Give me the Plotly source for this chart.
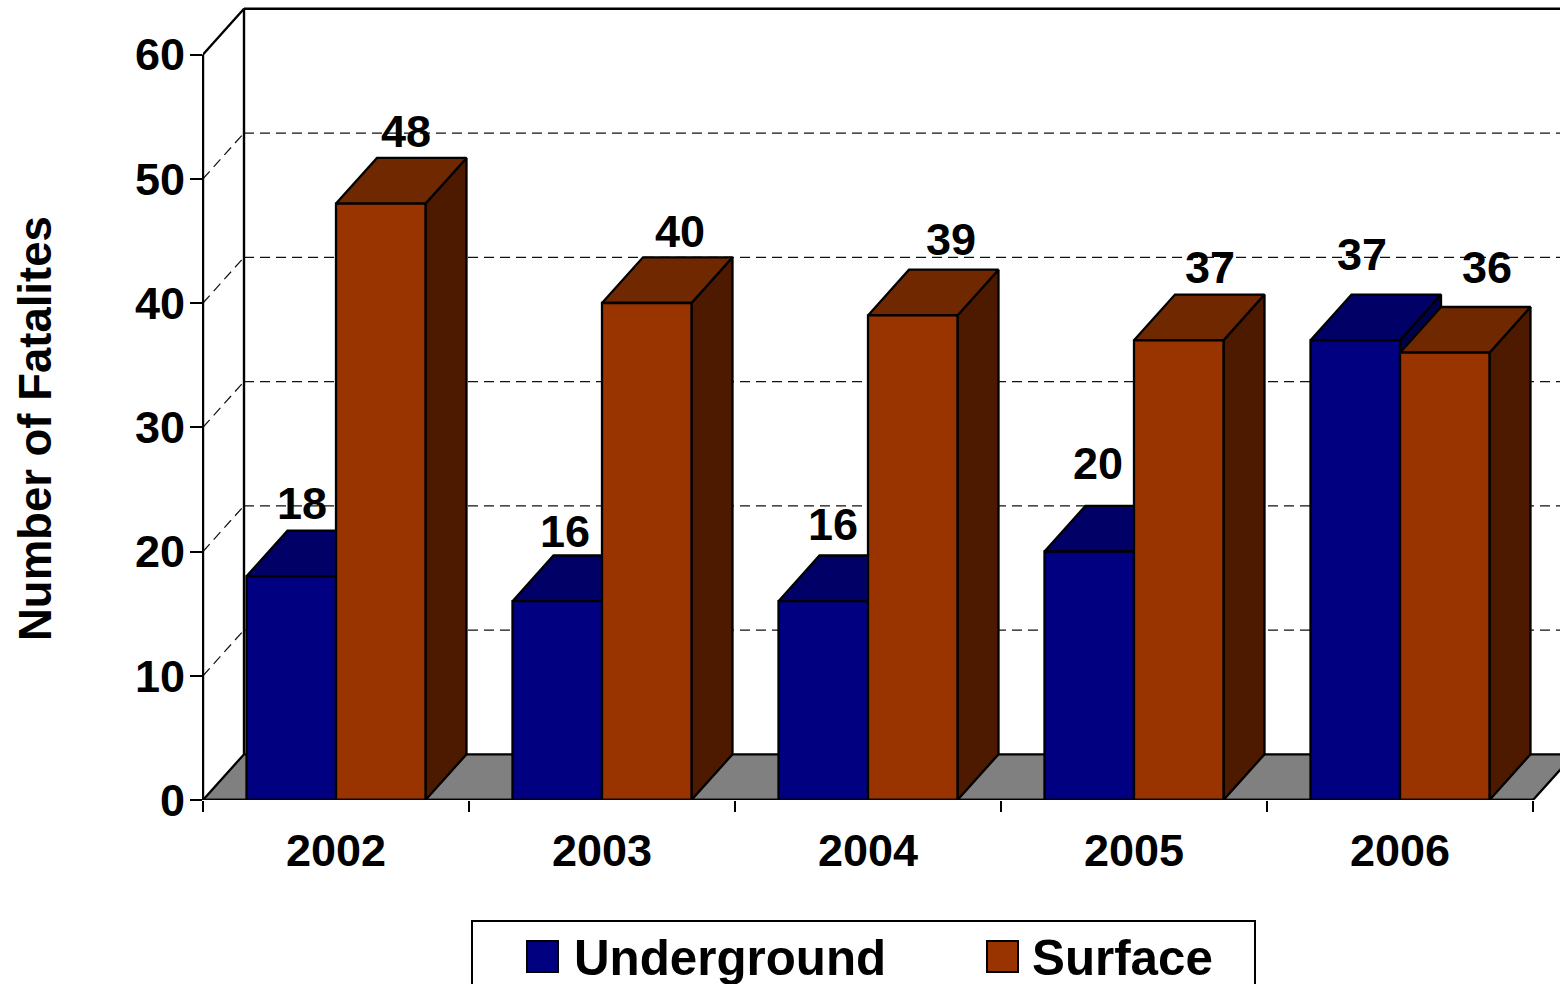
import plotly.graph_objects as go

# ---- data ----
years = ["2002", "2003", "2004", "2005", "2006"]
underground = [18, 16, 16, 20, 37]
surface = [48, 40, 39, 37, 36]
y_ticks = [0, 10, 20, 30, 40, 50, 60]
y_axis_title = "Number of Fatalites"
series_names = ["Underground", "Surface"]

# label nudges in px (x right, y up) from the centre of the front-top edge
under_label_dx = [11, 8, 10, 9, 7]
under_label_dy = [73, 70, 77, 88, 86]
surface_label_dx = [25, 33, 38, 31, 42]
surface_label_dy = [72, 72, 76, 73, 85]

# ---- style ----
FONT = "Liberation Sans"
UNDER = dict(front="#000080", top="#000066", side="#00004d")
SURF = dict(front="#993300", top="#702800", side="#4d1a00")
FLOOR = "#808080"
W, H = 1560, 984
L, B_PX = 203, 800
PX_PER_CAT = 266.0
PX_PER_VAL = 745.5 / 60
DEPTH_X = 41.0 / PX_PER_CAT   # category units
DEPTH_Y = 45.7 / PX_PER_VAL   # value units
BAR_W = 89.5 / PX_PER_CAT

n = len(years)
x_lo = -0.5
x_hi = x_lo + (W - L) / PX_PER_CAT
y_hi = B_PX / PX_PER_VAL
x_end = x_lo + n


def px(xp):
    return (xp - L) / (W - L)


def py(yp):
    return (B_PX - yp) / B_PX


fig = go.Figure()


def poly(xs, ys, fill, name, width=2.3):
    fig.add_trace(go.Scatter(
        x=xs, y=ys, mode="lines", fill="toself", fillcolor=fill,
        line=dict(color="#000000", width=width), cliponaxis=False,
        name=name, showlegend=False, hoverinfo="skip"))


def path(xs, ys, name, dash=None, color="#000000", width=2.4):
    fig.add_trace(go.Scatter(
        x=xs, y=ys, mode="lines",
        line=dict(color=color, width=width, dash=dash), cliponaxis=False,
        name=name, showlegend=False, hoverinfo="skip"))


# floor
poly([x_lo, x_lo + DEPTH_X, x_end + DEPTH_X, x_end, x_lo],
     [0, DEPTH_Y, DEPTH_Y, 0, 0], FLOOR, "floor")

# grid on back wall and side wall
for t in y_ticks[1:-1]:
    path([x_lo + DEPTH_X, x_hi + 1], [t + DEPTH_Y, t + DEPTH_Y], "grid",
         dash="10px,6px", color="#111111", width=1.2)
    path([x_lo, x_lo + DEPTH_X], [t, t + DEPTH_Y], "grid",
         dash="10px,6px", color="#111111", width=1.2)

# walls
path([x_lo, x_lo, x_lo + DEPTH_X, x_lo + DEPTH_X], [0, y_ticks[-1], y_ticks[-1] + DEPTH_Y, DEPTH_Y], "wall")
path([x_lo + DEPTH_X, x_hi + 1], [y_ticks[-1] + DEPTH_Y] * 2, "wall")


def bar3d(x0, v, colors, name):
    x1 = x0 + BAR_W
    poly([x1, x1 + DEPTH_X, x1 + DEPTH_X, x1, x1], [0, DEPTH_Y, v + DEPTH_Y, v, 0], colors["side"], name)
    poly([x0, x1, x1 + DEPTH_X, x0 + DEPTH_X, x0], [v, v, v + DEPTH_Y, v + DEPTH_Y, v], colors["top"], name)
    poly([x0, x1, x1, x0, x0], [0, 0, v, v, 0], colors["front"], name)


for i in range(n):
    bar3d(i - BAR_W, underground[i], UNDER, series_names[0])
    bar3d(i, surface[i], SURF, series_names[1])

# front edge of floor
path([x_lo, x_end], [0, 0], "front edge")

annotations = []
for i in range(n):
    annotations.append(dict(x=i - BAR_W / 2, y=underground[i], xref="x", yref="y",
                            text=str(underground[i]), xshift=under_label_dx[i], yshift=under_label_dy[i]))
    annotations.append(dict(x=i + BAR_W / 2, y=surface[i], xref="x", yref="y",
                            text=str(surface[i]), xshift=surface_label_dx[i], yshift=surface_label_dy[i]))
for a in annotations:
    a.update(showarrow=False, xanchor="center", yanchor="middle",
             font=dict(family=FONT, size=45, color="#000000", weight=700))

annotations.append(dict(x=px(35), y=py(429), xref="paper", yref="paper", text=y_axis_title,
                        textangle=-90, showarrow=False, xanchor="center", yanchor="middle",
                        font=dict(family=FONT, size=45.5, color="#000000", weight=700)))
annotations.append(dict(x=px(572), y=py(957), xref="paper", yref="paper", text=series_names[0],
                        showarrow=False, xanchor="left", yanchor="middle",
                        font=dict(family=FONT, size=49.3, color="#000000", weight=700)))
annotations.append(dict(x=px(1030), y=py(957), xref="paper", yref="paper", text=series_names[1],
                        showarrow=False, xanchor="left", yanchor="middle",
                        font=dict(family=FONT, size=49.3, color="#000000", weight=700)))

shapes = [
    dict(type="line", xref="paper", yref="y", x0=0, x1=0, y0=y_ticks[0], y1=y_ticks[-1],
         line=dict(color="#000000", width=2)),
    dict(type="rect", xref="paper", yref="paper", x0=px(472), x1=px(1255), y0=py(1000), y1=py(921),
         line=dict(color="#000000", width=2), fillcolor="#ffffff"),
    dict(type="rect", xref="paper", yref="paper", x0=px(527), x1=px(558), y0=py(972), y1=py(941),
         line=dict(color="#000000", width=2), fillcolor=UNDER["front"]),
    dict(type="rect", xref="paper", yref="paper", x0=px(987), x1=px(1018), y0=py(972), y1=py(941),
         line=dict(color="#000000", width=2), fillcolor=SURF["front"]),
]

fig.update_layout(
    width=W, height=H, autosize=False,
    margin=dict(l=L, r=0, t=0, b=H - B_PX, pad=0),
    paper_bgcolor="#ffffff", plot_bgcolor="#ffffff",
    showlegend=False, annotations=annotations, shapes=shapes,
    xaxis=dict(range=[x_lo, x_hi], tickmode="array", tickvals=list(range(n)), ticktext=years,
               ticks="", showgrid=False, zeroline=False, showline=False,
               ticklabelstandoff=20,
               tickfont=dict(family=FONT, size=45, color="#000000", weight=700),
               minor=dict(tickmode="array", tickvals=[x_lo + k for k in range(n + 1)],
                          ticks="outside", ticklen=11, tickwidth=2, tickcolor="#000000", showgrid=False)),
    yaxis=dict(range=[0, y_hi], tickmode="array", tickvals=y_ticks, ticktext=[str(t) for t in y_ticks],
               ticks="outside", ticklen=12, tickwidth=2, tickcolor="#000000",
               showgrid=False, zeroline=False, showline=False, ticklabelstandoff=-4,
               tickfont=dict(family=FONT, size=45, color="#000000", weight=700)),
)

fig.write_html("out.html", config=dict(displayModeBar=False),
               post_script="document.body.style.margin='0';document.body.style.overflow='hidden';")
